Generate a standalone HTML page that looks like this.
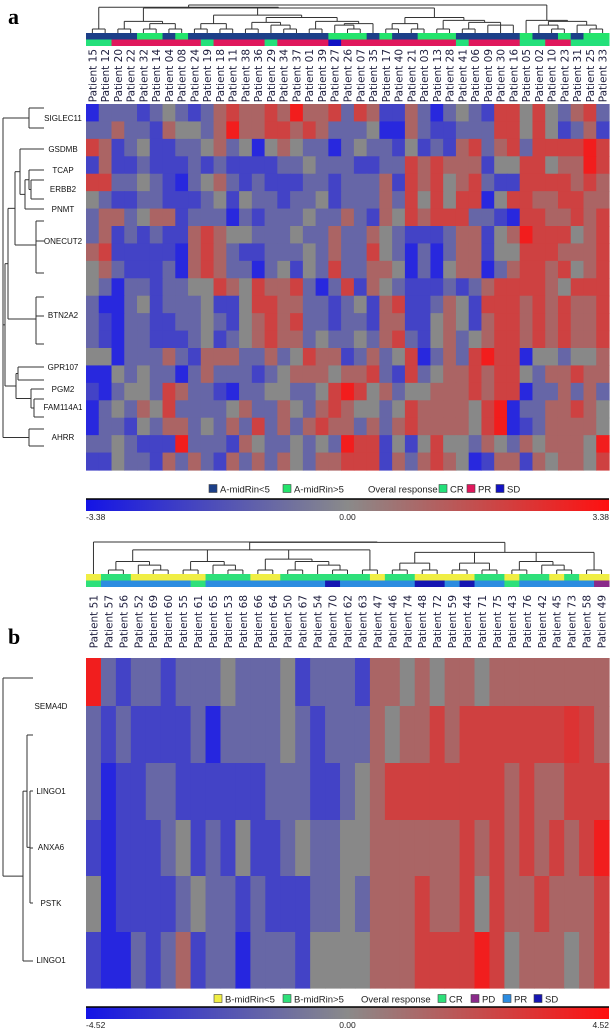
<!DOCTYPE html>
<html><head><meta charset="utf-8">
<style>
html,body{margin:0;padding:0;background:#fff;}
svg{display:block;}
</style></head>
<body>
<svg id="chart" width="614" height="1033" viewBox="0 0 614 1033" xmlns="http://www.w3.org/2000/svg">
  <defs>
    <linearGradient id="cbar" x1="0" x2="1" y1="0" y2="0">
      <stop offset="0" stop-color="#1414e6"/>
      <stop offset="0.5" stop-color="#8a8a8a"/>
      <stop offset="1" stop-color="#ff1010"/>
    </linearGradient>
  </defs>
  <text x="8" y="24" font-family="Liberation Serif, serif" font-weight="bold" font-size="22">a</text>
  <text x="8" y="644" font-family="Liberation Serif, serif" font-weight="bold" font-size="22">b</text>
  <g id="gA"></g>
  <g id="gB"></g>
</svg>
<script>
// ---------- Panel A data ----------
const colsA = ['15','12','20','22','32','14','04','08','24','19','18','11','38','36','29','34','37','01','39','27','26','07','35','17','40','21','03','13','28','41','06','09','30','16','05','02','10','23','31','25','33'];
const genesA = ['SIGLEC11','GSDMB','TCAP','ERBB2','PNMT','ONECUT2','BTN2A2','GPR107','PGM2','FAM114A1','AHRR'];
const midA = [0,0,0,0,1,1,0,1,0,0,0,0,0,0,0,0,0,0,0,1,1,1,0,1,0,0,1,1,1,0,0,0,0,0,1,0,0,1,0,1,1];
const respA = ['CR','CR','PR','PR','PR','PR','PR','PR','PR','CR','PR','PR','PR','PR','CR','PR','PR','PR','PR','SD','PR','PR','PR','PR','PR','PR','PR','PR','PR','CR','PR','PR','PR','PR','CR','CR','PR','PR','CR','CR','CR'];
const maxA = 3.38;
const valsA = [
[-2.8,-1,-1,-1,-2,-1,0,-1,-2,-1,1,2,1,1,2,1,3,1,1,2,-1,2,1,-2,-2,1,-1,-2.8,-1,0,-1,-2,2,2,0,2,0,-1,1,2,-1],
[-1,-1,1,-1,-1,-2,1,0,0,-1,1,3,1,1,2,2,1,2,1,-1,-1,-1,0,-2.8,-2.8,1,-1,-2,-2,-1,-1,-1,2,2,0,2,0,-2,-1,1,-2],
[2,1,-2,-1,0,-2,-2,-1,-1,0,1,-1,0,-2.8,0,1,0,-1,-1,-2.8,-1,0,-1,-1,-2,0,-2,-1,-2,1,2,-1,1,2,-1,2,2,2,2,3,2],
[-2,1,-2,-2,-1,-2,-2,-2,-1,-2,-1,-2,-2,-2,-2,-1,-1,0,-1,-1,-1,-2,-2,-1,-1,2,1,2,1,1,1,-2,0,0,2,2,0,1,1,3,2],
[2,2,-1,-1,0,-1,-2,-2.8,-1,0,1,-1,-2,-1,-2,-2,-2,-1,-1,-2,-1,-1,-1,1,-2,2,1,2,0,1,2,-1,-2,-2,2,2,2,2,1,2,1],
[0,-1,-2,-2,-1,-1,-2,-2,-2,-1,0,-2,0,-1,-1,-2,-1,-1,0,-2,-1,-1,-1,1,-1,2,0,2,0,2,2,-2.8,0,2,2,1,1,2,2,1,1],
[-1,1,1,-1,0,1,1,-2,-1,-1,-1,-2.8,-1,-2,-1,-1,-1,0,-1,-1,1,-1,-2,1,0,2,1,2,2,2,-1,-1,-2,-2.8,2,2,1,1,2,1,2],
[-1,1,-2,-1,-2,-1,-2,-2,1,2,1,0,0,-1,-1,-1,0,-1,-1,1,-1,-1,1,0,-1,-2,-2,-2,-1,1,1,-2,0,1,3,2,2,2,0,1,2],
[1,2,-2,-2,-2,-2,-2,-2.8,1,2,1,-1,-2,-2,-1,-1,-1,0,-1,1,-1,-1,2,0,-1,-2.8,-1,-2.8,-1,1,1,-2,0,0,2,2,2,1,1,1,2],
[0,1,-1,-2,-2,-2,-1,-2.8,1,2,1,-1,-1,-2.8,-1,0,-2,0,-1,2,-1,-1,1,1,0,-2.8,-1,-2.8,0,1,1,-2.8,-1,1,2,2,1,2,0,1,2],
[0,-1,-2.8,-1,-1,-2,-1,-1,0,0,2,1,0,2,1,1,2,-1,-2.8,-1,2,-2,1,0,-1,-2,-2,-2,-1,-2,-1,1,2,2,2,2,1,0,2,2,2],
[-1,-2.8,-2.8,-1,0,-2,-1,-1,-1,0,-2,-2,0,2,2,1,1,-1,-1,-2,-1,0,-2,1,2,-2,-2,-1,1,0,-2,2,2,2,1,2,1,2,1,1,2],
[-1,-2,-2.8,-1,-1,-2,-2,-1,-1,0,-1,-2,0,1,2,1,2,-1,-1,-2,-1,-1,-2,1,1,-2,-2,0,1,0,-2,1,2,2,1,2,1,2,1,1,2],
[-1,-2,-2.8,-1,-1,-2,-2,-2,-1,0,-2,-1,0,1,2,1,1,-1,0,-1,-1,0,-1,1,2,-1,-2,0,1,-1,0,1,2,2,1,2,1,2,1,1,2],
[0,0,-2.8,-1,-1,-1,1,-1,-2,1,1,1,-1,-1,1,-1,0,2,1,1,-2,-1,1,-1,0,2,-2.8,-1,1,-1,2,3,2,2,-2.8,0,0,-1,0,0,1],
[-2.8,-2.8,0,-1,0,-1,-1,-2.8,-1,1,-1,-1,-1,-2,-1,0,1,1,1,0,1,1,2,-1,-2,2,-1,0,1,1,2,1,2,2,0,-1,1,1,2,1,1],
[-2,-2.8,-1,0,0,-1,2,1,-1,-1,-2,-2.8,-1,-1,0,0,-1,-1,0,2,3,2,0,1,-1,0,0,1,1,1,2,1,2,2,-2.8,-1,-1,1,-1,1,-1],
[-2.8,-1,0,-1,1,0,2,-1,-1,-1,-1,0,1,-1,-1,1,0,-1,1,2,1,0,0,-1,0,2,1,1,1,1,0,2,3,-2.8,-1,-1,1,1,2,1,0],
[-2.8,-1,-1,-2,0,-1,1,1,-1,0,-1,1,-1,2,-1,1,-1,1,2,1,1,-1,1,-1,1,2,1,1,1,1,0,2,3,-2.8,-2,-1,1,1,1,1,0],
[-1,-1,0,-1,-2,-2,-2,3,-1,-1,-1,-2,1,0,-1,-1,0,-1,0,-1,3,2,2,-2,0,-2,0,2,0,0,-1,1,0,-1,1,0,1,1,1,0,3],
[-2,-2,0,-1,-1,-2,1,-1,1,-1,-2,1,-1,1,-1,1,0,-1,1,1,2,2,2,-2,1,-1,1,2,1,0,-2.8,-2,1,1,-2,1,0,1,1,0,2]
];
const treeA = [[[0,1],[[[2,3],[[4,5],[6,7]]],[[[8,9],[10,11]],[[[12,13],[14,[15,16]]],[[17,18],[[19,[20,21]],22]]]],[[[23,24],[25,26]],[[27,28],[[29,30],[31,32,33]]]]]],[34,[[35,[36,37]],[38,[39,40]]]]];

// ---------- Panel B data ----------
const colsB = ['51','57','56','52','69','60','55','61','65','53','68','66','64','50','67','54','70','62','63','47','46','74','48','72','59','44','71','75','43','76','42','45','73','58','49'];
const genesB = ['SEMA4D','LINGO1','ANXA6','PSTK','LINGO1'];
const midB = [0,1,1,0,0,0,0,0,1,1,1,0,0,1,1,1,1,1,1,0,1,1,0,0,0,0,1,1,0,1,1,0,1,0,0];
const respB = ['CR','PR','PR','PR','PR','PR','PR','CR','PR','PR','PR','PR','PR','PR','PR','PR','SD','PR','PR','PR','PR','PR','SD','SD','PR','SD','PR','PR','CR','PR','PR','PR','PR','PR','PD'];
const maxB = 4.52;
const valsB = [
[4,-1.3,-2.7,-1.3,-1.3,-2.7,-1.3,-1.3,-1.3,0,-1.3,-1.3,-1.3,0,-2.7,-1.3,-1.3,-1.3,-2.7,1.3,1.3,0,1.3,0,1.3,1.3,0,1.3,1.3,1.3,1.3,1.3,1.3,1.3,1.3],
[-1.3,-2.7,-1.3,-2.7,-2.7,-2.7,-2.7,-1.3,-3.8,-1.3,-1.3,-1.3,-1.3,0,-1.3,-2.7,-1.3,-1.3,-1.3,1.3,0,1.3,1.3,2.7,1.3,2.7,2.7,2.7,2.7,2.7,2.7,2.7,3.2,2.7,1.3],
[-1.3,-3.8,-2.7,-2.7,-1.3,-1.3,-2.7,-2.7,-2.7,-2.7,-2.7,-2.7,-1.3,-1.3,-1.3,-2.7,-2.7,-1.3,0,1.3,2.7,2.7,2.7,2.7,2.7,2.7,2.7,2.7,1.3,2.7,1.3,1.3,2.7,2.7,2.7],
[-2.7,-3.8,-2.7,-2.7,-2.7,-1.3,0,-2.7,-1.3,-2.7,0,-2.7,-2.7,-1.3,0,-1.3,-1.3,0,0,1.3,1.3,1.3,1.3,1.3,1.3,2.7,1.3,2.7,1.3,2.7,1.3,2.7,1.3,2.7,4],
[0,-3.8,-2.7,-2.7,-2.7,-2.7,-1.3,0,-1.3,-1.3,-2.7,-1.3,-2.7,-2.7,-2.7,-1.3,-1.3,0,-1.3,1.3,1.3,1.3,2.7,1.3,1.3,2.7,0,2.7,1.3,1.3,2.7,1.3,1.3,1.3,2.7],
[-2.7,-3.8,-3.8,-1.3,-2.7,-1.3,1.3,-2.7,-1.3,-1.3,-3.8,-1.3,-1.3,-1.3,-2.7,0,0,0,0,1.3,1.3,1.3,2.7,2.7,2.7,2.7,4,2.7,0,1.3,1.3,1.3,0,1.3,2.7]
];
const treeB = [0,[[[[1,2],[3,[4,5]]],[[6,7],[8,[9,10]]],[[11,12],[[13,14],[15,[16,17]]]],[18,19]],[[[20,21],[22,23]],[[24,25],[26,27]],[[28,29],[30,[31,32]]],[33,34]]]];

// ---------- helpers ----------
const NS = 'http://www.w3.org/2000/svg';
function mk(tag, attrs, parent){
  const e = document.createElementNS(NS, tag);
  for (const k in attrs) e.setAttribute(k, attrs[k]);
  parent.appendChild(e);
  return e;
}
function color(v, max){
  let t = Math.min(1, Math.abs(v)/max);
  if (v < 0) return `rgb(${Math.round(136-116*t)},${Math.round(136-116*t)},${Math.round(136+104*t)})`;
  return `rgb(${Math.round(136+119*t)},${Math.round(136-120*t)},${Math.round(136-120*t)})`;
}
function leafCount(n){ return Array.isArray(n) ? n.reduce((s,c)=>s+leafCount(c),0) : 1; }
function colTree(node, x0, cw, base, H, N, g){
  if (!Array.isArray(node)) return {x: x0+(node+0.5)*cw, y: base};
  const kids = node.map(c => colTree(c, x0, cw, base, H, N, g));
  const n = leafCount(node);
  const y = base - 4 - (H-4)*Math.sqrt(Math.max(0,(n-2))/(N-2));
  kids.forEach(k => {
    const l = mk('line', {x1:k.x, x2:k.x, y1:k.y, y2:y, stroke:'#333', 'stroke-width':1}, g);
    
    
  });
  const xs = kids.map(k=>k.x);
  const h = mk('line', {x1:Math.min(...xs), x2:Math.max(...xs), y1:y, y2:y, stroke:'#333', 'stroke-width':1}, g);
  
  
  return {x: xs.reduce((a,b)=>a+b,0)/xs.length, y: y};
}
function rowTree(node, leafX, g){
  if (node.y !== undefined && !node.c) return {x: leafX, y: node.y};
  const kids = node.c.map(c => rowTree(c, leafX, g));
  kids.forEach(k => {
    const l = mk('line', {x1:k.x, x2:node.x, y1:k.y, y2:k.y, stroke:'#333', 'stroke-width':1}, g);
    
    
  });
  const ys = kids.map(k=>k.y);
  const v = mk('line', {x1:node.x, x2:node.x, y1:Math.min(...ys), y2:Math.max(...ys), stroke:'#333', 'stroke-width':1}, g);
  
  
  return {x: node.x, y: ys.reduce((a,b)=>a+b,0)/ys.length};
}

function drawPanel(cfg){
  const g = document.getElementById(cfg.gid);
  const nC = cfg.cols.length;
  const cw = (cfg.x1 - cfg.x0)/nC;
  const dg = mk('g', {}, g);
  
  
  colTree(cfg.tree, cfg.x0, cw, cfg.treeBase, cfg.treeH, nC, dg);
  cfg.mid.forEach((m,i) => {
    const r = mk('rect', {x:cfg.x0+i*cw, y:cfg.barY, width:cw+0.5, height:cfg.barH, fill:cfg.midColors[m]}, g);
    
    
  });
  cfg.resp.forEach((s,i) => {
    const r = mk('rect', {x:cfg.x0+i*cw, y:cfg.barY+cfg.barH, width:cw+0.5, height:cfg.barH, fill:cfg.respColors[s]}, g);
    
    
  });
  cfg.cols.forEach((c,i) => {
    const cx = cfg.x0 + (i+0.5)*cw + 4;
    const t = mk('text', {transform:`translate(${cx},${cfg.labTop}) rotate(-90)`, 'text-anchor':'end', 'font-family':'DejaVu Sans, Liberation Sans, sans-serif', 'font-size':10.5, fill:'#1c1c3c'}, g);
    t.textContent = 'Patient ' + c;
    
    
  });
  const hm = mk('g', {}, g);
  
  
  cfg.vals.forEach((row,r) => {
    const ya = cfg.rowEdge(r), yb = cfg.rowEdge(r+1);
    row.forEach((v,c) => {
      const rc = mk('rect', {x:cfg.x0+c*cw, y:ya, width:cw+0.6, height:yb-ya+0.6, fill:color(v, cfg.max)}, hm);
      
      
    });
  });
  cfg.genes.forEach((gn,i) => {
    const t = mk('text', {x:cfg.geneX, y:cfg.geneY[i]+3, 'text-anchor':'middle', 'font-family':'Liberation Sans, sans-serif', 'font-size':8, fill:'#111'}, g);
    t.textContent = gn;
    
    
  });
  const rg = mk('g', {}, g);
  
  
  rowTree(cfg.rowTree, cfg.rowLeafX, rg);
  const lg = mk('g', {}, g);
  
  
  cfg.legend.forEach(it => {
    if (it.c) {
      const s = mk('rect', {x:it.x, y:cfg.legY-4.5, width:8, height:8, fill:it.c, stroke:'#444', 'stroke-width':0.6}, lg);
      
      
    }
    const t = mk('text', {x:it.c ? it.x+11 : it.x, y:cfg.legY+3.5, 'font-family':'Liberation Sans, sans-serif', 'font-size':9.5, fill:'#222'}, lg);
    t.textContent = it.t;
    
    
  });
  const cb = mk('rect', {x:cfg.x0, y:cfg.cbY, width:cfg.x1-cfg.x0, height:12, fill:'url(#cbar)'}, g);
  
  
  const cbl = mk('line', {x1:cfg.x0, x2:cfg.x1, y1:cfg.cbY, y2:cfg.cbY, stroke:'#000', 'stroke-width':1.5}, g);
  
  
  [[cfg.x0,'start','-'+cfg.max.toFixed(2)],[(cfg.x0+cfg.x1)/2,'middle','0.00'],[cfg.x1,'end',cfg.max.toFixed(2)]].forEach(a => {
    const t = mk('text', {x:a[0], y:cfg.cbY+21, 'text-anchor':a[1], 'font-family':'Liberation Sans, sans-serif', 'font-size':8.5, fill:'#222'}, g);
    t.textContent = a[2];
    
    
  });
}

const aTop = 104, aBot = 470;
drawPanel({
  gid:'gA', cols:colsA, vals:valsA, mid:midA, resp:respA, tree:treeA, genes:genesA, max:maxA,
  x0:86, x1:609, treeBase:33, treeH:28, barY:33, barH:6.5, labTop:49,
  rowEdge: r => aTop + r*(aBot-aTop)/valsA.length,
  midColors:['#1c3f88','#24e46c'], respColors:{CR:'#24e07a',PR:'#e0185c',SD:'#1212c4'},
  geneX:63, geneY:[118,149,170,189,209,241,315,367,389,407,437],
  rowLeafX:44,
  rowTree:{x:3,c:[
    {x:29,c:[{y:108},{y:128}]},
    {x:5,c:[
      {x:8,c:[
        {x:15,c:[
          {x:20,c:[{y:149},{x:25,c:[{x:29,c:[{y:170},{x:31,c:[{y:180},{y:199}]}]},{y:209}]}]},
          {x:36,c:[{y:221},{y:241},{y:273}]}
        ]},
        {x:36,c:[{y:297},{y:316},{y:344}]}
      ]},
      {x:16,c:[
        {x:18,c:[{y:367},{y:380}]},
        {x:31,c:[{y:389},{x:34,c:[{y:399},{y:417}]}]}
      ]}
    ]},
    {x:29,c:[{y:429},{y:446}]}
  ]},
  legY:489, cbY:499,
  legend:[{x:209,c:'#1c3f88',t:'A-midRin<5'},{x:283,c:'#24e46c',t:'A-midRin>5'},{x:368,t:'Overal response'},{x:439,c:'#24e07a',t:'CR'},{x:467,c:'#e0185c',t:'PR'},{x:496,c:'#1212c4',t:'SD'}]
});

const bEdges = [658, 706, 763, 820, 876, 932, 988];
drawPanel({
  gid:'gB', cols:colsB, vals:valsB, mid:midB, resp:respB, tree:treeB, genes:genesB, max:maxB,
  x0:86, x1:609, treeBase:574, treeH:32, barY:574, barH:6.5, labTop:595,
  rowEdge: r => bEdges[r],
  midColors:['#f0ee44','#2ee07a'], respColors:{CR:'#2ee07a',PR:'#2c8ce0',SD:'#1616b2',PD:'#8a2a8a'},
  geneX:51, geneY:[706,791,847,903,960],
  rowLeafX:33,
  rowTree:{x:3,c:[
    {y:678},
    {x:23,c:[
      {x:27,c:[{y:735},{x:30,c:[{y:791},{y:848},{y:903}]}]},
      {y:961}
    ]}
  ]},
  legY:999, cbY:1007,
  legend:[{x:214,c:'#f0ee44',t:'B-midRin<5'},{x:283,c:'#2ee07a',t:'B-midRin>5'},{x:361,t:'Overal response'},{x:438,c:'#2ee07a',t:'CR'},{x:471,c:'#8a2a8a',t:'PD'},{x:503,c:'#2c8ce0',t:'PR'},{x:534,c:'#1616b2',t:'SD'}]
});
</script>
</body></html>
